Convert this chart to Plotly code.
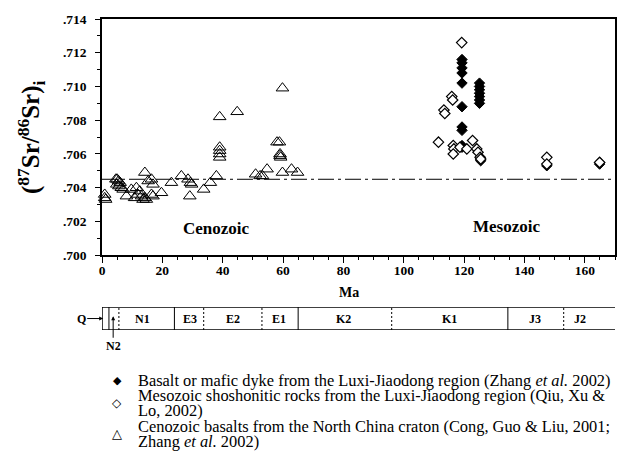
import plotly.graph_objects as go

# ---------------- data ----------------
# Cenozoic basalts, North China craton (open triangles)
cen_age = [0.9, 0.9, 1.2,
           4.6, 5.0, 5.5, 6.0, 4.9, 5.6, 6.4, 7.0,
           8.1, 9.7, 11.4, 11.9, 10.8, 12.5, 13.1, 13.6, 14.2, 14.7,
           14.2, 15.3, 16.4, 16.9, 16.4, 16.9, 19.7, 23.0, 26.3,
           28.5, 29.3, 29.7, 29.1, 33.7, 35.9, 37.9,
           39.0, 39.0, 39.0, 39.0, 39.0, 44.8,
           50.9, 52.4, 53.2, 54.7, 58.0, 58.8, 59.0, 59.0, 59.2,
           59.8, 59.8, 62.8, 64.8]
cen_sr = [0.7036, 0.7034, 0.7033,
          0.7045, 0.7045, 0.7044, 0.7043, 0.7042, 0.7041, 0.7040, 0.7039,
          0.7035, 0.7039, 0.7040, 0.7036, 0.7034, 0.7038, 0.7035, 0.7033, 0.7034, 0.7033,
          0.7049, 0.7044, 0.7045, 0.7042, 0.7036, 0.7035, 0.7037, 0.7043, 0.7047,
          0.7045, 0.7043, 0.7042, 0.7035, 0.7039, 0.7043, 0.7047,
          0.7082, 0.7064, 0.7062, 0.7060, 0.7058, 0.7085,
          0.7048, 0.7047, 0.7047, 0.7051, 0.7067, 0.7067, 0.7060, 0.7059, 0.7058,
          0.7099, 0.7049, 0.7051, 0.7049]

# Basalt or mafic dyke, Luxi-Jiaodong (filled diamonds)
zhang_age = [119.3, 119.3, 119.3, 119.3, 119.3, 119.3, 119.3, 119.3, 119.3, 119.3,
             125.1, 125.1, 125.1, 125.1, 125.1, 125.1, 125.1,
             125.5, 125.5, 147.4, 164.9, 164.9]
zhang_sr = [0.7116, 0.7114, 0.7111, 0.7108, 0.7102, 0.7088, 0.7076, 0.7074, 0.7065, 0.7064,
            0.7102, 0.7100, 0.7098, 0.7096, 0.7094, 0.7092, 0.7090,
            0.7057, 0.7056, 0.7053, 0.7055, 0.7054]

# Mesozoic shoshonitic rocks, Luxi-Jiaodong (open diamonds)
qiu_age = [119.2, 115.9, 116.2, 113.3, 113.6, 111.5, 116.4, 116.6, 116.4,
           118.6, 120.9, 122.8, 124.2, 124.6, 125.3, 125.5,
           147.4, 147.4, 164.9]
qiu_sr = [0.7126, 0.7094, 0.7092, 0.7086, 0.7084, 0.7067, 0.7065, 0.7063, 0.7060,
          0.7064, 0.7063, 0.7068, 0.7063, 0.7061, 0.7058, 0.7057,
          0.7058, 0.7054, 0.7055]

ref_line_sr = 0.7045

ytick_vals = [0.700, 0.702, 0.704, 0.706, 0.708, 0.710, 0.712, 0.714]
ytick_text = ['.700', '.702', '.704', '.706', '.708', '.710', '.712', '.714']
xtick_vals = [0, 20, 40, 60, 80, 100, 120, 140, 160]

# geological time scale bar
period_bounds = [0, 2.3, 5.6, 24.0, 33.7, 53.0, 65.0, 96.0, 134.5, 153.0]
period_bound_solid = [True, True, False, True, False, False, True, False, True, False]
period_names = ['N1', 'E3', 'E2', 'E1', 'K2', 'K1', 'J3', 'J2']
period_label_age = [13.5, 29.0, 43.4, 58.7, 80.0, 115.0, 143.5, 158.4]

legend_symbols = ['◆', '◇', '△']
legend_lines = [
    'Basalt or mafic dyke from the Luxi-Jiaodong region (Zhang <i>et al.</i> 2002)',
    'Mesozoic shoshonitic rocks from the Luxi-Jiaodong region (Qiu, Xu &amp;',
    'Lo, 2002)',
    'Cenozoic basalts from the North China craton (Cong, Guo &amp; Liu, 2001;',
    'Zhang <i>et al.</i> 2002)',
]

# ---------------- layout geometry ----------------
W, H = 632, 459
ML, MR, MT, MB = 102, 17, 14, 129
PW, PH = W - ML - MR, H - MT - MB
XMAX = 170


def px(xpix):
    return (xpix - ML) / PW


def py(ypix):
    return (H - MB - ypix) / PH


SERIF = 'Liberation Serif'
main_bottom = py(254)
bar_top = py(306.7)

fig = go.Figure()

fig.add_trace(go.Scatter(x=cen_age, y=cen_sr, mode='markers', cliponaxis=False,
                         marker=dict(symbol='triangle-up-open', size=11, color='black',
                                     line=dict(width=1, color='black')),
                         showlegend=False, hoverinfo='skip'))
fig.add_trace(go.Scatter(x=zhang_age, y=zhang_sr, mode='markers', cliponaxis=False,
                         marker=dict(symbol='diamond', size=8, color='black',
                                     line=dict(width=1, color='black')),
                         showlegend=False, hoverinfo='skip'))
fig.add_trace(go.Scatter(x=qiu_age, y=qiu_sr, mode='markers', cliponaxis=False,
                         marker=dict(symbol='diamond', size=8, color='white',
                                     line=dict(width=1.2, color='black')),
                         showlegend=False, hoverinfo='skip'))

shapes = []
# reference dash-dot line
shapes.append(dict(type='line', xref='x', yref='y', x0=0, x1=XMAX,
                   y0=ref_line_sr, y1=ref_line_sr,
                   line=dict(color='black', width=1, dash='16px,4px,3px,4px')))
# time-scale bar frame
for yy in (0, 1):
    shapes.append(dict(type='line', xref='x', yref='y2', x0=0, x1=XMAX, y0=yy, y1=yy,
                       line=dict(color='black', width=1.5)))
for b, solid in zip(period_bounds, period_bound_solid):
    shapes.append(dict(type='line', xref='x', yref='y2', x0=b, x1=b, y0=0, y1=1,
                       line=dict(color='black', width=1 if b > 0 else 1.5,
                                 dash='solid' if solid else '2px,2px')))

annotations = []
for name, a in zip(period_names, period_label_age):
    annotations.append(dict(x=a, y=0.5, xref='x', yref='y2', text='<b>%s</b>' % name,
                            showarrow=False, font=dict(family=SERIF, size=12, color='black')))
annotations.append(dict(x=0.4, y=0.5, xref='x', yref='y2', text='<b>Q</b>', showarrow=True,
                        ax=-22, ay=0, arrowhead=2, arrowsize=0.8, arrowwidth=1,
                        arrowcolor='black', font=dict(family=SERIF, size=12, color='black')))
annotations.append(dict(x=3.7, y=0.6, xref='x', yref='y2', text='<b>N2</b>', showarrow=True,
                        ax=0, ay=30, arrowhead=2, arrowsize=0.8, arrowwidth=1,
                        arrowcolor='black', font=dict(family=SERIF, size=12, color='black')))

annotations.append(dict(x=38, y=0.7016, xref='x', yref='y', text='<b>Cenozoic</b>',
                        showarrow=False, font=dict(family=SERIF, size=17, color='black')))
annotations.append(dict(x=134, y=0.7017, xref='x', yref='y', text='<b>Mesozoic</b>',
                        showarrow=False, font=dict(family=SERIF, size=17, color='black')))

annotations.append(dict(x=82, y=py(292), xref='x', yref='paper', text='<b>Ma</b>',
                        xanchor='center', yanchor='middle',
                        showarrow=False, font=dict(family=SERIF, size=14, color='black')))
annotations.append(dict(x=px(31), y=py(134), xref='paper', yref='paper', textangle=-90,
                        xanchor='center', yanchor='middle',
                        text='<b>(<sup>87</sup>Sr/<sup>86</sup>Sr)<sub>i</sub></b>',
                        showarrow=False, font=dict(family=SERIF, size=25, color='black')))

# legend block
line_y0, line_dy = 381, 15.6
for k, t in enumerate(legend_lines):
    annotations.append(dict(x=px(136), y=py(line_y0 + k * line_dy), xref='paper', yref='paper',
                            xanchor='left', yanchor='middle', text=t, showarrow=False,
                            font=dict(family=SERIF, size=16.4, color='black')))
sym_rows = [0, 1.5, 3.5]
sym_sizes = [11, 12, 13]
for s, r, sz in zip(legend_symbols, sym_rows, sym_sizes):
    annotations.append(dict(x=px(117), y=py(line_y0 + r * line_dy), xref='paper', yref='paper',
                            xanchor='center', yanchor='middle', text=s, showarrow=False,
                            font=dict(family='DejaVu Sans', size=sz, color='black')))

axis_font = dict(family=SERIF, size=13.5, color='black')
fig.update_layout(
    width=W, height=H,
    margin=dict(l=ML, r=MR, t=MT, b=MB, pad=0),
    paper_bgcolor='white', plot_bgcolor='white',
    showlegend=False,
    xaxis=dict(range=[0, XMAX], tickvals=xtick_vals, ticktext=['<b>%d</b>' % v for v in xtick_vals],
               ticks='outside', ticklen=6, tickwidth=1.2, tickcolor='black',
               showline=True, linecolor='black', linewidth=1.5, mirror=True,
               showgrid=False, zeroline=False, tickfont=axis_font, anchor='y',
               ticklabelstandoff=-4,
               minor=dict(dtick=5, ticks='outside', ticklen=3, tickwidth=1, tickcolor='black')),
    yaxis=dict(range=[0.700, 0.714], domain=[main_bottom, 1], tickvals=ytick_vals,
               ticktext=['<b>%s</b>' % t for t in ytick_text],
               ticks='outside', ticklen=5, tickwidth=1.2, tickcolor='black',
               showline=True, linecolor='black', linewidth=1.5, mirror=True,
               showgrid=False, zeroline=False, tickfont=axis_font, ticklabelstandoff=6,
               minor=dict(dtick=0.001, ticks='outside', ticklen=3, tickwidth=1, tickcolor='black')),
    yaxis2=dict(domain=[0, bar_top], range=[0, 1], visible=False, anchor='x', fixedrange=True),
    shapes=shapes,
    annotations=annotations,
)

fig.write_html('out.html', config={'displayModeBar': False},
               post_script="document.body.style.margin='0';")
